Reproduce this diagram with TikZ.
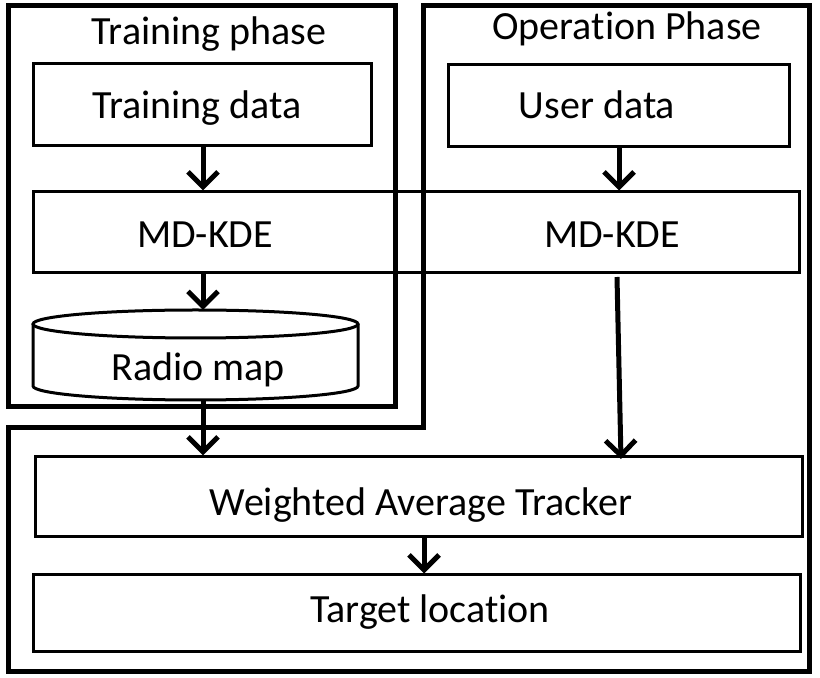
\documentclass[tikz,border=0pt]{standalone}
\usepackage{fontspec}
\setmainfont{Carlito}[Ligatures=NoCommon]
\usetikzlibrary{shapes.geometric, arrows.meta}

\begin{document}
\begin{tikzpicture}[x=0.5pt, y=-0.5pt,
        phase/.style = {draw, line width=2.5pt},
        main/.style = {draw, line width=1.5pt, inner sep=0pt},
        lbl/.style = {anchor=base, inner sep=0pt, font=\fontsize{20}{24}\selectfont},
        arr/.style = {-{Straight Barb[length=7.5pt, width=15pt, line width=2.5pt]}, line width=2.5pt}]
    \useasboundingbox (0,0) rectangle (820,678);

    % phase frames
    \draw[phase] (8,6) rectangle (395,407);
    \draw[phase] (423,6) -- (809,6) -- (809,672) -- (8,672) -- (8,428) -- (423,428) -- cycle;
    \node[lbl] at (209,45) (trainT) {Training phase};
    \node[lbl] at (627,40) (operT) {Operation Phase};

    % boxes
    \node[main, minimum width=169pt, minimum height=41pt] at (202,105) (tdata) {};
    \node[main, minimum width=170.5pt, minimum height=41pt] at (619,106) (udata) {};
    \node[main, minimum width=383pt, minimum height=40.5pt] at (416,232.5) (kde) {};
    \node[main, minimum width=383.5pt, minimum height=40pt] at (418.5,497) (wat) {};
    \node[main, minimum width=383.5pt, minimum height=38.5pt] at (416.5,613.5) (target) {};

    % radio map store
    \draw[main] (33,324) -- (33,386) arc[start angle=180, end angle=0, x radius=162.5, y radius=14]
        -- (358,324);
    \draw[main] (195.5,324) ellipse [x radius=162.5, y radius=14];
    \coordinate (radioN) at (203,310);
    \coordinate (radioS) at (203,400);

    % texts
    \node[lbl] at (197,119) (tdataT) {Training data};
    \node[lbl] at (597,119) (udataT) {User data};
    \node[lbl] at (205,248) (kdeA) {MD-KDE};
    \node[lbl] at (612,248) (kdeB) {MD-KDE};
    \node[lbl] at (198,381) (radioT) {Radio map};
    \node[lbl] at (421,516) (watT) {Weighted Average Tracker};
    \node[lbl] at (430,623) (targetT) {Target location};

    % flow
    \coordinate (kdeL) at (203,273);
    \coordinate (kdeR) at (617,277);
    \coordinate (watR) at (621,459);
    \draw[arr] (tdata.south -| radioN) -- (kde.north -| radioN);
    \draw[arr] (udata) -- (udata |- kde.north);
    \draw[arr] (kdeL) -- (radioN);
    \draw[arr] (radioS) -- (wat.north -| radioS);
    \draw[arr] (kdeR) -- (watR);
    \draw[arr] (wat.south -| 424,0) -- (target.north -| 424,0);
\end{tikzpicture}
\end{document}
